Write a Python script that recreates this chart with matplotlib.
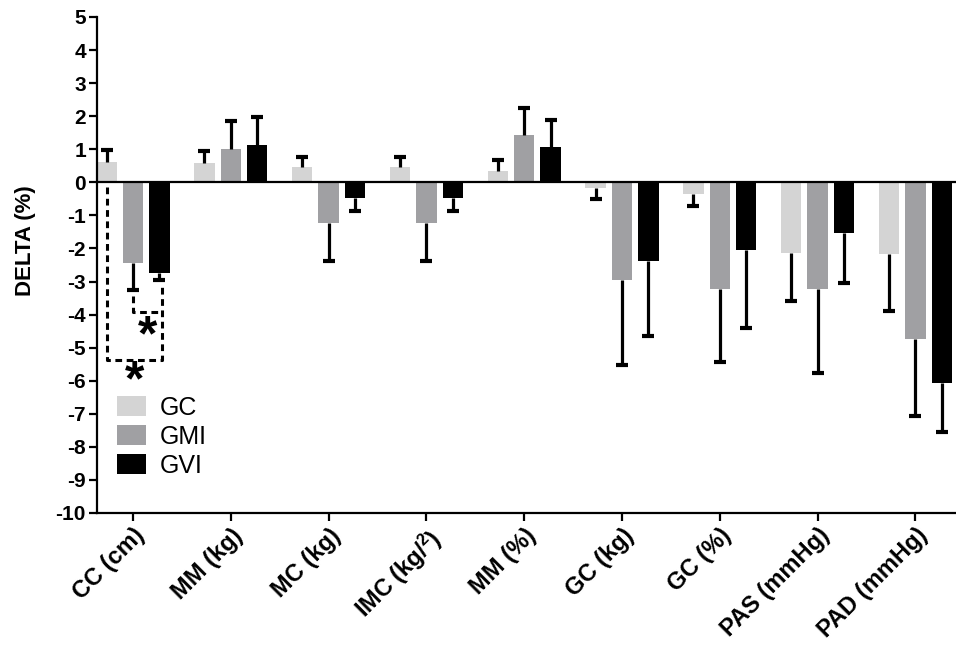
import matplotlib
matplotlib.use("Agg")
import matplotlib.pyplot as plt
import numpy as np

plt.rcParams['font.family'] = ['Liberation Sans', 'DejaVu Sans']
plt.rcParams['mathtext.default'] = 'regular'

categories = ["CC (cm)", "MM (kg)", "MC (kg)", "IMC (kg/$^{2}$)", "MM (%)",
              "GC (kg)", "GC (%)", "PAS (mmHg)", "PAD (mmHg)"]
series_names = ["GC", "GMI", "GVI"]
gc = [0.61, 0.57, 0.46, 0.46, 0.34, -0.16, -0.36, -2.14, -2.18]
gc_err = [0.37, 0.38, 0.29, 0.29, 0.33, 0.36, 0.37, 1.45, 1.70]
gmi = [-2.43, 1.02, -1.23, -1.23, 1.42, -2.94, -3.24, -3.22, -4.73]
gmi_err = [0.84, 0.83, 1.15, 1.15, 0.84, 2.59, 2.19, 2.54, 2.35]
gvi = [-2.73, 1.13, -0.46, -0.46, 1.07, -2.38, -2.06, -1.52, -6.06]
gvi_err = [0.22, 0.85, 0.42, 0.42, 0.80, 2.28, 2.35, 1.52, 1.50]
yticks = list(range(-10, 6))

colors = ["#d4d4d4", "#a0a0a3", "#000000"]
fig = plt.figure(figsize=(9.56, 6.52), dpi=100)
ax = fig.add_axes([0.1015, 0.2132, 0.8985, 0.7608])

x = np.arange(len(categories))
offsets = [-0.27, 0.0, 0.27]
width = 0.21
for vals, errs, off, col, name in zip([gc, gmi, gvi], [gc_err, gmi_err, gvi_err],
                                       offsets, colors, series_names):
    vals = np.array(vals)
    errs = np.array(errs)
    ends = vals + np.sign(vals) * errs
    ax.bar(x + off, vals, width, color=col, label=name, zorder=2)
    ax.vlines(x + off, vals, ends, color='black', lw=2.3, zorder=3)
    ax.plot(x + off, ends, ls='none', marker='_', markersize=8, mew=3,
            color='black', zorder=3)

ax.axhline(0, color='black', lw=1.6, zorder=4)

# significance brackets
dash = dict(color='black', lw=2.2, ls=(0, (2.2, 1.5)), zorder=5)
ax.plot([-0.27, -0.27, 0.30, 0.30], [-0.15, -5.38, -5.38, -3.05], **dash)
ax.plot([0.0, 0.0, 0.30], [-3.45, -3.92, -3.92], **dash)
ax.text(0.148, -5.09, "*", fontsize=36, fontweight='bold', ha='center', va='baseline')
ax.text(0.02, -6.44, "*", fontsize=36, fontweight='bold', ha='center', va='baseline')

ax.set_xlim(-0.368, 8.415)
ax.set_ylim(-10, 5)
ax.set_yticks(yticks)
ax.set_yticklabels([str(t) for t in yticks], fontsize=15, fontweight='bold')
ax.set_xticks(x)
ax.set_xticklabels(categories, rotation=45, ha='right', rotation_mode='anchor',
                   fontsize=17, fontweight='bold')
ax.set_ylabel("DELTA (%)", fontsize=16, fontweight='bold')
ax.yaxis.set_label_coords(-0.071, 0.55)

for s in ['top', 'right']:
    ax.spines[s].set_visible(False)
for s in ['left', 'bottom']:
    ax.spines[s].set_linewidth(1.6)
ax.tick_params(axis='both', direction='out', length=6, width=1.6, pad=2)

leg = ax.legend(loc='upper left', bbox_to_anchor=(0.023, 0.236), frameon=False,
                fontsize=18, handlelength=1.16, handleheight=0.84, labelspacing=0.2,
                handletextpad=0.56, borderpad=0, borderaxespad=0)

fig.savefig("out.png", dpi=100)
